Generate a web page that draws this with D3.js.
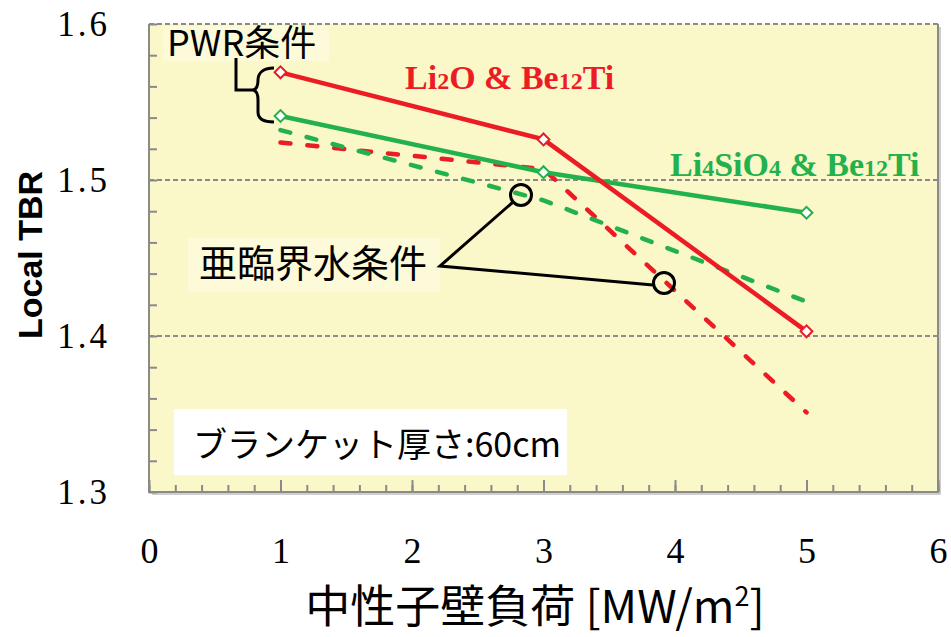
<!DOCTYPE html>
<html lang="ja">
<head>
<meta charset="UTF-8">
<script src="https://d3js.org/d3.v7.min.js"></script>
<style>
  body { margin: 0; background: #fff; }
  svg { display: block; }
</style>
</head>
<body>
<div id="chart"></div>
<script>
// data
const loads = [1, 3, 5];                       // 中性子壁負荷 [MW/m2]
const li2oPwr = [1.569, 1.526, 1.403];         // Li2O & Be12Ti, PWR条件
const li2oSub = [1.524, 1.507, 1.351];         // Li2O & Be12Ti, 亜臨界水条件
const li4sio4Pwr = [1.541, 1.505, 1.479];      // Li4SiO4 & Be12Ti, PWR条件
const li4sio4Sub = [1.532, 1.487, 1.422];      // Li4SiO4 & Be12Ti, 亜臨界水条件
const xTicks = [0, 1, 2, 3, 4, 5, 6];
const yTicks = [1.3, 1.4, 1.5, 1.6];

const red = "#ec1c24", green = "#22b14c";
const serif = "'Liberation Serif', 'DejaVu Serif', serif";
const cjk = "'Noto Sans CJK JP', sans-serif";

const W = 951, H = 637;
const margin = { left: 149, top: 24, right: 13, bottom: 145 };
const w = W - margin.left - margin.right;
const h = H - margin.top - margin.bottom;

const svg = d3.select("#chart").append("svg")
  .attr("width", W).attr("height", H);

const x = d3.scaleLinear().domain([0, 6]).range([0, w]);
const y = d3.scaleLinear().domain([1.3, 1.6]).range([h, 0]);

const g = svg.append("g").attr("transform", `translate(${margin.left},${margin.top})`);

// plot background with a faint shadow
g.append("rect").attr("x", 3).attr("y", 3).attr("width", w).attr("height", h).attr("fill", "#cfcfcf");
g.append("rect").attr("width", w).attr("height", h).attr("fill", "#faf7c8");

// dashed grid lines
g.selectAll(".grid").data([1.4, 1.5, 1.6]).enter().append("line")
  .attr("x1", 0).attr("x2", w)
  .attr("y1", d => y(d)).attr("y2", d => y(d))
  .attr("stroke", "#8a8a8a").attr("stroke-width", 2).attr("stroke-dasharray", "5,3");

// axes: ticks point inward
const yAxis = g.append("g")
  .call(d3.axisLeft(y).tickValues(d3.range(1.3, 1.6001, 0.02)).tickSize(-8).tickFormat(""));
yAxis.select(".domain").remove();
yAxis.selectAll("line").attr("stroke", "#8a8a8a").attr("stroke-width", 2);

const xMinor = g.append("g").attr("transform", `translate(0,${h})`)
  .call(d3.axisBottom(x).tickValues(d3.range(0, 6.001, 0.2)).tickSize(-7).tickFormat(""));
xMinor.select(".domain").remove();
xMinor.selectAll("line").attr("stroke", "#8a8a8a").attr("stroke-width", 2);
const xMajor = g.append("g").attr("transform", `translate(0,${h})`)
  .call(d3.axisBottom(x).tickValues(xTicks).tickSize(-12).tickFormat(""));
xMajor.select(".domain").remove();
xMajor.selectAll("line").attr("stroke", "#8a8a8a").attr("stroke-width", 2);

// frame: left, right, bottom solid
g.append("path")
  .attr("d", `M0,0V${h}H${w}V0`)
  .attr("fill", "none").attr("stroke", "#8a8a8a").attr("stroke-width", 2);

// tick labels
const yLab = g.append("g").attr("transform", "translate(-36,0)")
  .call(d3.axisLeft(y).tickValues(yTicks).tickSize(0).tickFormat(d3.format(".1f")));
yLab.select(".domain").remove();
yLab.selectAll("text").attr("dy", "0.33em")
  .style("font-family", serif).style("font-size", "35px").style("letter-spacing", "3px")
  .attr("fill", "#000");

const xLab = g.append("g").attr("transform", `translate(0,${h})`)
  .call(d3.axisBottom(x).tickValues(xTicks).tickSize(0).tickFormat(d3.format("d")));
xLab.select(".domain").remove();
xLab.selectAll("text").attr("y", 71).attr("dy", 0)
  .style("font-family", serif).style("font-size", "36px").attr("fill", "#000");

// axis titles
svg.append("text")
  .attr("transform", `translate(42,${margin.top + h / 2 - 3}) rotate(-90)`)
  .attr("text-anchor", "middle")
  .style("font-family", "'Liberation Sans', Arial, sans-serif")
  .style("font-weight", "bold").style("font-size", "34px")
  .text("Local TBR");

const xt = svg.append("text")
  .attr("x", 535).attr("y", 623)
  .attr("text-anchor", "middle")
  .style("font-family", cjk).style("font-size", "45px");
xt.append("tspan").text("中性子壁負荷 [MW/m");
xt.append("tspan").attr("dy", -17).style("font-size", "27px").text("2");
xt.append("tspan").attr("dy", 17).text("]");

// lines
const line = d3.line().x((d, i) => x(loads[i])).y(d => y(d));
const series = [
  { vals: li2oSub, color: red, dash: true },
  { vals: li4sio4Sub, color: green, dash: true },
  { vals: li4sio4Pwr, color: green, dash: false },
  { vals: li2oPwr, color: red, dash: false }
];
series.forEach(s => {
  g.append("path").datum(s.vals)
    .attr("d", line)
    .attr("fill", "none")
    .attr("stroke", s.color).attr("stroke-width", 4.5)
    .attr("stroke-linecap", s.dash ? "round" : "butt")
    .attr("stroke-dasharray", s.dash ? "10,17" : null);
});
series.filter(s => !s.dash).forEach(s => {
  g.selectAll(null).data(s.vals).enter().append("path")
    .attr("d", d3.symbol(d3.symbolSquare, 70))
    .attr("transform", (d, i) => `translate(${x(loads[i])},${y(d)}) rotate(45)`)
    .attr("fill", "#fff").attr("stroke", s.color).attr("stroke-width", 2);
});

// series labels
function chem(parts, px, py, color) {
  const t = svg.append("text").attr("x", px).attr("y", py)
    .style("font-family", serif).style("font-weight", "bold")
    .style("font-size", "34px").attr("fill", color);
  parts.forEach(p => {
    t.append("tspan").style("font-size", p[1] ? "24px" : "34px").text(p[0]);
  });
}
chem([["Li"], ["2", 1], ["O & Be"], ["12", 1], ["Ti"]], 405, 89, red);
chem([["Li"], ["4", 1], ["SiO"], ["4", 1], [" & Be"], ["12", 1], ["Ti"]], 670, 176, green);

// PWR条件 label with brace
svg.append("rect").attr("x", 163).attr("y", 26).attr("width", 166).attr("height", 35).attr("fill", "#fcfad8");
svg.append("text").attr("x", 167).attr("y", 56)
  .style("font-family", cjk).style("font-size", "36px")
  .text("PWR条件");
svg.append("path")
  .attr("d", "M236,58V90H254 M274,68 C262,68 258,74 258,80 C258,86 256,90 252,90 C256,90 258,94 258,100 V112 C258,118 262,122 274,122")
  .attr("fill", "none").attr("stroke", "#000").attr("stroke-width", 3);

// 亜臨界水条件 label with pointers
svg.append("rect").attr("x", 188).attr("y", 238).attr("width", 252).attr("height", 54).attr("fill", "#fcfad8");
svg.append("text").attr("x", 199).attr("y", 277)
  .style("font-family", cjk).style("font-size", "38px")
  .text("亜臨界水条件");
svg.append("path")
  .attr("d", "M513,202L440,266L653,285")
  .attr("fill", "none").attr("stroke", "#000").attr("stroke-width", 3);
[[521, 195], [664, 283]].forEach(c => {
  svg.append("circle").attr("cx", c[0]).attr("cy", c[1]).attr("r", 10.5)
    .attr("fill", "none").attr("stroke", "#000").attr("stroke-width", 3);
});

// blanket thickness note
svg.append("rect").attr("x", 174).attr("y", 409).attr("width", 393).attr("height", 66).attr("fill", "#fff");
svg.append("text").attr("x", 193).attr("y", 457)
  .style("font-family", cjk).style("font-size", "34px")
  .text("ブランケット厚さ:60cm");
</script>
</body>
</html>
